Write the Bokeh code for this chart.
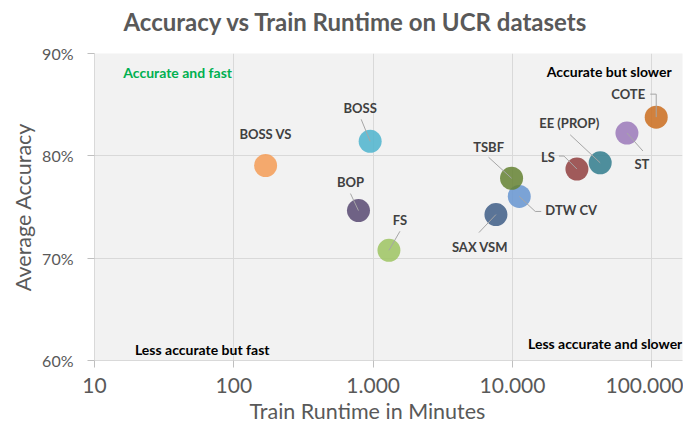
import math
from bokeh.plotting import figure
from bokeh.models import FixedTicker, NumeralTickFormatter, Title
from bokeh.embed import file_html
from bokeh.resources import INLINE
from bokeh.core.properties import value

# ---------------- data ----------------
methods = ["BOSS VS", "BOSS", "BOP", "FS", "SAX VSM", "DTW CV", "TSBF",
           "LS", "EE (PROP)", "ST", "COTE"]
runtime_min = [169, 951, 784, 1297, 7600, 11170, 9840, 28970, 42560, 66200, 107400]
accuracy = [0.7905, 0.8142, 0.7465, 0.7077, 0.7426, 0.7603, 0.7781,
            0.7871, 0.7932, 0.8223, 0.8378]
point_colors = ["#F4A96D", "#66BDD3", "#6F6285", "#AACB78", "#5B7497", "#7BA3D6",
                "#7A9450", "#A05A5A", "#4E8E9C", "#A88BC2", "#D1813E"]
x_ticks = [10, 100, 1000, 10000, 100000]
x_tick_labels = ["10", "100", "1.000", "10.000", "100.000"]
y_ticks = [0.6, 0.7, 0.8, 0.9]

title_text = "Accuracy vs Train Runtime on UCR datasets"
x_title_text = "Train Runtime in Minutes"
y_title_text = "Average Accuracy"

quadrant_texts = ["Accurate and fast", "Accurate but slower",
                  "Less accurate but fast", "Less accurate and slower"]
quadrant_x = [39.5, 49400, 59.3, 46200]
quadrant_y = [0.8816, 0.8826, 0.6106, 0.6165]
quadrant_colors = ["#00B050", "#000000", "#000000", "#000000"]

# label layout (screen px offsets from the point: right, up)
label_offsets = {
    "BOSS VS": ((0, 31.5), []),
    "BOSS": ((-10, 33), [(-9, 22)]),
    "BOP": ((-8, 29), [(-8, 17)]),
    "FS": ((11, 30), [(11, 19)]),
    "SAX VSM": ((-16, -32), [(-17, -18)]),
    "DTW CV": ((52, -14), [(22, -15), (16, -15)]),
    "TSBF": ((-23, 31), [(-23, 21)]),
    "LS": ((-29, 12), [(-18, 13), (-13, 13)]),
    "EE (PROP)": ((-31, 40), [(-30, 28)]),
    "ST": ((15, -31), [(16, -18)]),
    "COTE": ((-28, 23), [(-6, 23), (0, 23)]),
}

# ---------------- layout ----------------
W, H = 683, 426
B_LEFT, B_RIGHT, B_TOP, B_BOTTOM = 94, 1, 53, 66
FRAME_W = W - B_LEFT - B_RIGHT
FRAME_H = H - B_TOP - B_BOTTOM
PX_DEC = 139.35
X_MIN = 10
X_MAX = 10 ** (1 + FRAME_W / PX_DEC)
Y_MIN, Y_MAX = 0.6, 0.9
PX_Y = FRAME_H / (Y_MAX - Y_MIN)

FONT = value("Lato")


def shift(x, y, dx, dy):
    return x * 10 ** (dx / PX_DEC), y + dy / PX_Y


def blend(hex_color, alpha=0.85, bg=(242, 242, 242)):
    r, g, b = (int(hex_color[i:i + 2], 16) for i in (1, 3, 5))
    out = []
    for c, k in zip((r, g, b), bg):
        v = (c - (1 - alpha) * k) / alpha
        out.append(max(0, min(255, int(round(v)))))
    return "#%02x%02x%02x" % tuple(out)


p = figure(width=W, height=H, x_axis_type="log",
           x_range=(X_MIN, X_MAX), y_range=(Y_MIN, Y_MAX),
           output_backend="svg", toolbar_location=None,
           min_border_left=B_LEFT, min_border_right=B_RIGHT,
           min_border_top=B_TOP, min_border_bottom=B_BOTTOM)

p.background_fill_color = "#F2F2F2"
p.border_fill_color = "#FFFFFF"
p.outline_line_color = None

# chart title (outermost panel above the frame)
p.title.text = title_text
p.title.text_font = "Lato"
p.title.text_font_style = "bold"
p.title.text_font_size = "24px"
p.title.text_color = "#595959"
p.title.align = "left"
p.title.offset = 29
p.title.standoff = 0

# invisible spacer between the title and the frame
spacer = Title(text=" ", text_font_size="1px", standoff=15)
p.add_layout(spacer, "above")

# x-axis title (placed below the axis, shifted left like the original)
x_title = Title(text=x_title_text, align="left", offset=155,
                text_font="Lato", text_font_style="normal",
                text_font_size="21.5px", text_color="#595959", standoff=0)
p.add_layout(x_title, "below")

# axes
p.xaxis.ticker = FixedTicker(ticks=x_ticks)
p.xaxis.major_label_overrides = {t: l for t, l in zip(x_ticks, x_tick_labels)}
p.yaxis.ticker = FixedTicker(ticks=y_ticks)
p.yaxis.formatter = NumeralTickFormatter(format="0%")
p.xgrid.ticker = FixedTicker(ticks=x_ticks)
p.ygrid.ticker = FixedTicker(ticks=y_ticks)
p.grid.grid_line_color = "#D9D9D9"
p.grid.grid_line_width = 1

for ax in (p.xaxis, p.yaxis):
    ax.axis_line_color = "#D9D9D9"
    ax.major_tick_line_color = "#BFBFBF"
    ax.major_tick_out = 7
    ax.major_tick_in = 0
    ax.minor_tick_line_color = None
    ax.major_label_text_color = "#595959"
    ax.major_label_text_font = "Lato"
    ax.axis_label_text_color = "#595959"
    ax.axis_label_text_font = "Lato"
    ax.axis_label_text_font_style = "normal"

p.yaxis.axis_label = y_title_text
p.xaxis.major_label_text_font_size = "21px"
p.yaxis.major_label_text_font_size = "16px"
p.yaxis.axis_label_text_font_size = "21.5px"
p.xaxis.major_label_standoff = 10
p.yaxis.major_label_standoff = 14
p.yaxis.axis_label_standoff = 3

# points
fills = [blend(c) for c in point_colors]
p.scatter(runtime_min, accuracy, size=23, fill_color=fills, fill_alpha=0.85,
          line_color=None)

# leader lines and labels
lab_x, lab_y = [], []
for name, x, y in zip(methods, runtime_min, accuracy):
    (ldx, ldy), path = label_offsets[name]
    lx, ly = shift(x, y, ldx, ldy)
    lab_x.append(lx)
    lab_y.append(ly)
    if path:
        xs, ys = [], []
        for dx, dy in path:
            px, py = shift(x, y, dx, dy)
            xs.append(px)
            ys.append(py)
        xs.append(x)
        ys.append(y)
        p.line(xs, ys, line_color="#A6A6A6", line_width=1)

p.text(lab_x, lab_y, text=methods, text_align="center", text_baseline="middle",
       text_font=FONT, text_font_style="bold", text_font_size="13px",
       text_color="#404040")

# quadrant annotations
p.text(quadrant_x, quadrant_y, text=quadrant_texts, text_align="center",
       text_baseline="middle", text_font=FONT, text_font_style="bold",
       text_font_size="14px", text_color=quadrant_colors)

open("out.html", "w").write(file_html(p, INLINE))
